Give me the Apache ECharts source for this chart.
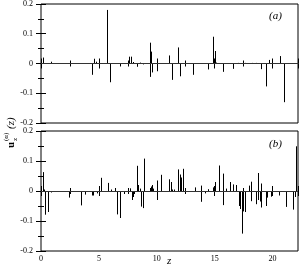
<!DOCTYPE html>
<html><head><meta charset="utf-8">
<script src="https://cdn.jsdelivr.net/npm/echarts@6/dist/echarts.min.js"></script>
<style>html,body{margin:0;padding:0;background:#fff}#c{width:302px;height:270px}</style>
</head><body><div id="c"></div>
<script>
// Panel (a)
var zA = [0.2, 0.87, 4.38, 4.56, 4.76, 5.71, 6.0, 6.8, 7.64, 7.79, 7.98, 8.25, 8.56, 8.85, 9.43, 9.45, 9.51, 9.63, 10.03, 11.07, 11.3, 11.82, 12.05, 13.12, 14.39, 14.82, 14.99, 15.1, 15.69, 16.55, 17.0, 17.6, 18.2, 18.6, 19.03, 19.44, 19.7, 20.65, 21.0];
var vA = [0.02, 0.006, -0.038, 0.016, 0.006, 0.18, -0.063, -0.01, 0.023, 0.023, 0.005, -0.011, 0.003, -0.003, 0.07, -0.045, 0.04, -0.03, -0.026, 0.027, -0.055, 0.054, -0.043, -0.038, -0.02, 0.09, 0.042, 0.003, -0.028, -0.018, 0.002, 0.002, 0.002, 0.002, -0.019, -0.077, 0.012, 0.025, -0.13];
// Panel (b)
var zB = [0.2, 0.29, 0.37, 0.58, 0.87, 2.42, 3.46, 3.78, 4.38, 4.45, 4.52, 4.84, 5.19, 5.77, 6.05, 6.4, 6.57, 6.83, 7.2, 7.7, 7.85, 7.95, 8.05, 8.33, 8.42, 8.56, 8.68, 8.82, 8.94, 9.4, 9.5, 9.55, 9.62, 9.7, 9.98, 10.06, 10.4, 11.07, 11.2, 11.3, 11.45, 11.85, 11.97, 12.09, 12.26, 13.26, 13.78, 13.8, 14.18, 14.44, 14.85, 15.05, 15.37, 15.68, 15.7, 16.0, 16.35, 16.6, 16.87, 17.1, 17.22, 17.32, 17.42, 17.65, 17.95, 18.1, 18.12, 18.6, 18.74, 18.76, 18.9, 19.0, 19.03, 19.43, 19.5, 19.84, 20.6, 21.2, 21.74, 21.9, 22.0];
var vB = [0.063, 0.005, -0.079, -0.07, -0.005, -0.022, -0.048, -0.012, -0.015, -0.015, -0.012, -0.008, 0.044, 0.027, 0.005, 0.01, -0.078, -0.09, -0.01, 0.009, -0.03, -0.02, -0.01, 0.084, 0.02, 0.008, -0.052, -0.057, 0.108, 0.01, 0.015, 0.02, 0.012, 0.008, 0.035, -0.03, 0.054, 0.039, 0.03, 0.005, 0.005, 0.072, 0.055, 0.045, 0.074, 0.012, 0.018, -0.036, -0.008, 0.006, 0.012, 0.03, 0.085, 0.058, -0.047, 0.008, 0.03, 0.022, 0.02, -0.05, -0.06, -0.142, -0.068, -0.07, 0.018, 0.031, -0.034, -0.044, 0.06, -0.03, -0.035, -0.055, 0.025, -0.05, -0.022, -0.019, -0.015, -0.053, -0.062, -0.02, 0.149];
var xTicks = [0, 5, 10, 15, 20];
var yTicks = [-0.2, -0.1, 0, 0.1, 0.2];
var panelLabels = ['(a)', '(b)'];

var FONT = 'Liberation Serif';
function pairs(z, v){ return z.map(function(x,i){ return [x, v[i]]; }); }
function xAx(grid, pos, labels){
  return {type:'value', gridIndex:grid, position:pos, min:xTicks[0], max:22.2, interval:5,
    axisLine:{show:false}, splitLine:{show:false},
    axisTick:{show:true, inside:true, length:5, lineStyle:{color:'#000', width:1}},
    minorTick:{show:true, splitNumber:2, length:3, lineStyle:{color:'#000', width:1}},
    axisLabel:{show:labels, showMaxLabel:false, fontFamily:FONT, fontSize:8, color:'#000', margin:4}};
}
function yAx(grid, pos, labels){
  return {type:'value', gridIndex:grid, position:pos, min:yTicks[0], max:yTicks[yTicks.length-1], interval:0.1,
    axisLine:{show:false}, splitLine:{show:false},
    axisTick:{show:true, inside:true, length:5, lineStyle:{color:'#000', width:1}},
    minorTick:{show:true, splitNumber:2, length:3, lineStyle:{color:'#000', width:1}},
    axisLabel:{show:labels, fontFamily:FONT, fontSize:8, color:'#000', margin:8}};
}
function renderSpike(params, api){
  var x = api.value(0), v = api.value(1);
  var p0 = api.coord([x, 0]), p1 = api.coord([x, v]);
  var px = Math.round(p0[0]) + 0.5;
  return {type:'line', shape:{x1:px, y1:p0[1], x2:px, y2:p1[1]}, style:{stroke:'#000', lineWidth:1}};
}
function spikeSeries(idx, data){
  return {type:'custom', xAxisIndex:idx*2, yAxisIndex:idx*2, data:data, renderItem:renderSpike, silent:true,
    markLine:{silent:true, symbol:'none', label:{show:false}, lineStyle:{color:'#333', width:1, type:'solid'}, data:[{yAxis:0}]}};
}
var chart = echarts.init(document.getElementById('c'), null, {renderer:'canvas'});
chart.setOption({
  animation:false,
  grid:[
    {left:41, right:4, top:4, height:119, show:true, borderColor:'#000', borderWidth:1},
    {left:41, right:4, top:131, height:120, show:true, borderColor:'#000', borderWidth:1}
  ],
  xAxis:[xAx(0,'bottom',false), xAx(0,'top',false), xAx(1,'bottom',true), xAx(1,'top',false)],
  yAxis:[yAx(0,'left',true), yAx(0,'right',false), yAx(1,'left',true), yAx(1,'right',false)],
  series:[spikeSeries(0, pairs(zA, vA)), spikeSeries(1, pairs(zB, vB))],
  graphic:[
    {type:'text', left:269, top:11, style:{text:panelLabels[0], font:'italic 11px "Liberation Serif"', fill:'#000'}},
    {type:'text', left:269, top:139, style:{text:panelLabels[1], font:'italic 11px "Liberation Serif"', fill:'#000'}},
    {type:'text', left:167, top:256, style:{text:'z', font:'italic 11px "Liberation Serif"', fill:'#000'}},
    {type:'group', x:15, y:148, rotation:Math.PI/2, children:[
      {type:'text', x:0, y:-9, style:{text:'u', font:'bold 11px "Liberation Serif"', fill:'#000'}},
      {type:'text', x:7, y:-3, style:{text:'z', font:'7px "Liberation Serif"', fill:'#000'}},
      {type:'text', x:7, y:-12, style:{text:'(α)', font:'7px "Liberation Serif"', fill:'#000'}},
      {type:'text', x:19, y:-9, style:{text:'(z)', font:'italic 11px "Liberation Serif"', fill:'#000'}}
    ]}
  ]
});
</script></body></html>
